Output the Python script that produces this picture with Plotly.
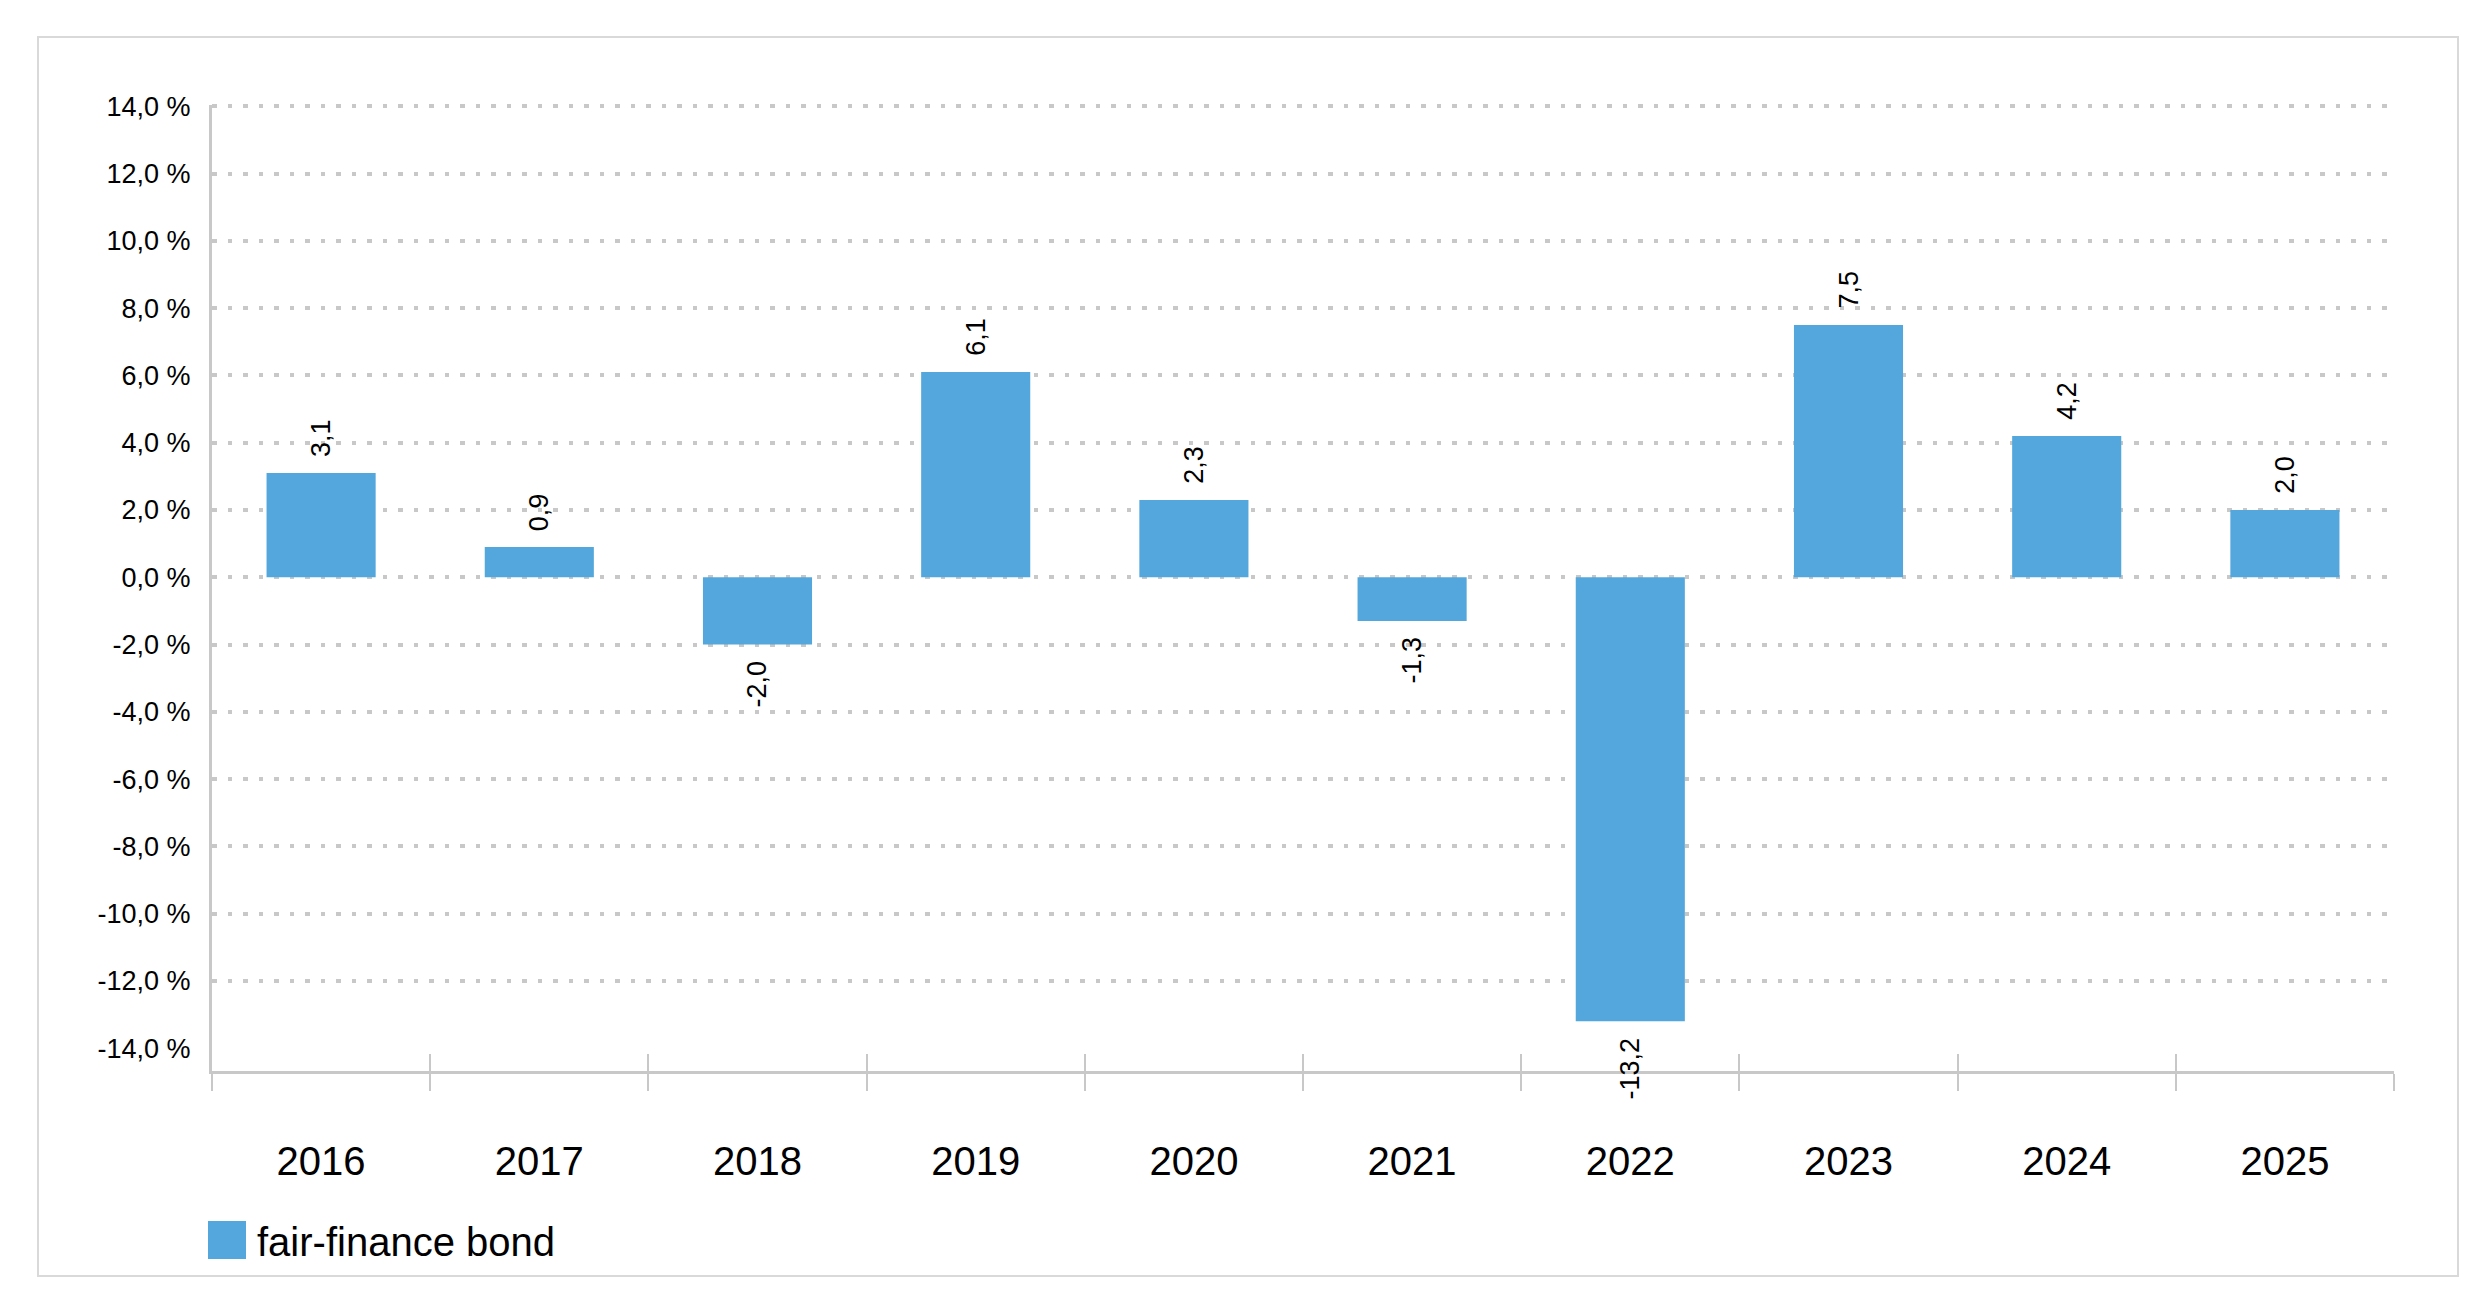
import plotly.graph_objects as go

# ---- data ----
years = ["2016", "2017", "2018", "2019", "2020", "2021", "2022", "2023", "2024", "2025"]
returns = [3.1, 0.9, -2.0, 6.1, 2.3, -1.3, -13.2, 7.5, 4.2, 2.0]
value_labels = ["3,1", "0,9", "-2,0", "6,1", "2,3", "-1,3", "-13,2", "7,5", "4,2", "2,0"]
series_name = "fair-finance bond"
y_tick_vals = [14, 12, 10, 8, 6, 4, 2, 0, -2, -4, -6, -8, -10, -12, -14]
y_tick_labels = ["14,0 %", "12,0 %", "10,0 %", "8,0 %", "6,0 %", "4,0 %", "2,0 %", "0,0 %",
                 "-2,0 %", "-4,0 %", "-6,0 %", "-8,0 %", "-10,0 %", "-12,0 %", "-14,0 %"]
grid_vals = [14, 12, 10, 8, 6, 4, 2, 0, -2, -4, -6, -8, -10, -12]

# ---- style / layout ----
W, H = 2480, 1299
L, R, T, B = 204, 94, 97, 236
PW, PH = W - L - R, H - T - B
Y_RANGE = [-14.68, 14.04]
X_RANGE = [-0.5, len(years) - 0.5]
BLUE = "#53A7DC"
AXIS_GRAY = "#c8c8c8"
FONT = "Liberation Sans, Arial, sans-serif"


def px_x(p):
    return (p - L) / PW


def px_y(p):
    return (H - B - p) / PH


fig = go.Figure()
fig.add_trace(go.Bar(
    x=years, y=returns, name=series_name, marker_color=BLUE, marker_line_width=0,
    width=0.5, showlegend=False, xaxis="x", yaxis="y",
))
# helper (empty) trace for the overlay axes that draw grid & inner tick halves
fig.add_trace(go.Scatter(x=[], y=[], xaxis="x2", yaxis="y2", showlegend=False, hoverinfo="skip"))

annotations = []
for i, (v, lbl) in enumerate(zip(returns, value_labels)):
    annotations.append(dict(
        x=i, y=v, xref="x", yref="y", text=lbl, textangle=-90, showarrow=False,
        yanchor="bottom" if v >= 0 else "top", yshift=14 if v >= 0 else -14,
        font=dict(family=FONT, size=27, color="#000000"),
    ))
annotations.append(dict(
    xref="paper", yref="paper", x=px_x(247), y=px_y(1234), text=series_name,
    showarrow=False, xanchor="left", yanchor="middle",
    font=dict(family=FONT, size=40, color="#000000"),
))

shapes = [
    dict(type="rect", xref="paper", yref="paper", x0=px_x(30), x1=px_x(2450),
         y0=px_y(1268), y1=px_y(29), line=dict(color="#d9d9d9", width=2),
         fillcolor="rgba(0,0,0,0)", layer="below"),
    dict(type="rect", xref="paper", yref="paper", x0=px_x(200), x1=px_x(238),
         y0=px_y(1251), y1=px_y(1213), line=dict(width=0), fillcolor=BLUE),
]

fig.update_layout(
    width=W, height=H,
    margin=dict(l=L, r=R, t=T, b=B, pad=0),
    paper_bgcolor="white", plot_bgcolor="white",
    font=dict(family=FONT, color="#000000"),
    showlegend=False,
    bargap=0.5,
    xaxis=dict(
        type="category", categoryorder="array", categoryarray=years, range=X_RANGE,
        showline=True, linecolor=AXIS_GRAY, linewidth=3,
        ticks="outside", tickson="boundaries", ticklen=17, tickwidth=2, tickcolor=AXIS_GRAY,
        tickfont=dict(family=FONT, size=40, color="#000000"), ticklabelstandoff=53,
        showgrid=False, zeroline=False,
    ),
    xaxis2=dict(
        type="category", categoryorder="array", categoryarray=years, range=X_RANGE,
        overlaying="x", anchor="y2", side="bottom",
        showline=False, ticks="inside", tickson="boundaries", ticklen=17, tickwidth=2,
        tickcolor=AXIS_GRAY, showticklabels=False, showgrid=False, zeroline=False,
    ),
    yaxis=dict(
        range=Y_RANGE, tickmode="array", tickvals=y_tick_vals, ticktext=y_tick_labels,
        ticks="", showline=True, linecolor=AXIS_GRAY, linewidth=3,
        tickfont=dict(family=FONT, size=27, color="#000000"), ticklabelstandoff=13,
        showgrid=False, zeroline=False,
    ),
    yaxis2=dict(
        range=Y_RANGE, overlaying="y", anchor="x2", tickmode="array", tickvals=grid_vals,
        showticklabels=False, ticks="", showline=False, zeroline=False,
        showgrid=True, gridcolor=AXIS_GRAY, gridwidth=3.5, griddash="4.5px,11px",
    ),
    annotations=annotations,
    shapes=shapes,
)

fig.write_html("out.html")
